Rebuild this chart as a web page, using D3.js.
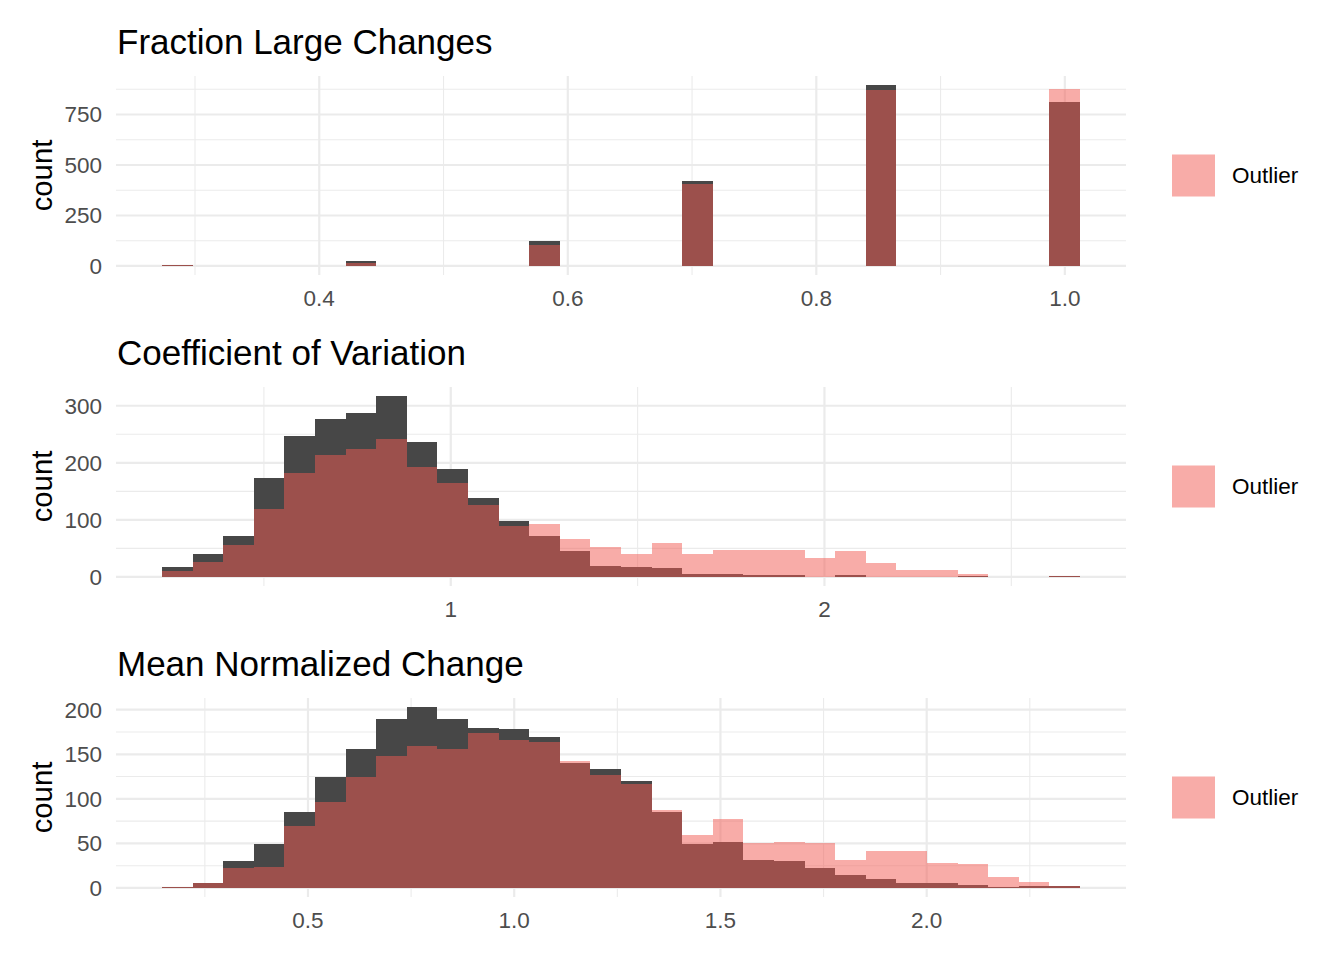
<!DOCTYPE html>
<html>
<head>
<meta charset="utf-8">
<script src="https://cdn.jsdelivr.net/npm/d3@7/dist/d3.min.js"></script>
<style>
    body { margin: 0; background: #fff; }
    text { font-family: "Liberation Sans", Arial, sans-serif; }
    rect.normal, rect.outlier { shape-rendering: crispEdges; }
</style>
</head>
<body>
<svg id="chart" width="1344" height="960"></svg>
<script>
// Panel titles
var panelTitles = ['Fraction Large Changes', 'Coefficient of Variation', 'Mean Normalized Change'];

// Fraction Large Changes: 30 bins, first bin center + bin width
var fracBinStart = 0.2857, fracBinWidth = 0.02463;
var fracNormal = [3, 0, 0, 0, 0, 0, 25, 0, 0, 0, 0, 0, 124, 0, 0, 0, 0, 421, 0, 0, 0, 0, 0, 896, 0, 0, 0, 0, 0, 812];
var fracOutlier = [3, 0, 0, 0, 0, 0, 15, 0, 0, 0, 0, 0, 104, 0, 0, 0, 0, 406, 0, 0, 0, 0, 0, 871, 0, 0, 0, 0, 0, 876];
var fracXTicks = [0.4, 0.6, 0.8, 1.0];
var fracXMinor = [0.3, 0.5, 0.7, 0.9];
var fracYTicks = [0, 250, 500, 750];
var fracYMinor = [125, 375, 625, 875];

// Coefficient of Variation
var cvBinStart = 0.268, cvBinWidth = 0.0819;
var cvNormal = [17, 40, 71, 173, 247, 277, 287, 317, 236, 189, 138, 98, 71, 45, 20, 17, 15, 5, 5, 3, 3, 0, 3, 0, 0, 0, 1, 0, 0, 1];
var cvOutlier = [10, 26, 56, 119, 182, 213, 224, 242, 192, 164, 126, 90, 92, 67, 53, 41, 59, 41, 48, 47, 47, 33, 45, 24, 13, 13, 6, 0, 0, 1];
var cvXTicks = [1, 2];
var cvXMinor = [0.5, 1.5, 2.5];
var cvYTicks = [0, 100, 200, 300];
var cvYMinor = [50, 150, 250];

// Mean Normalized Change
var mncBinStart = 0.183, mncBinWidth = 0.0742;
var mncNormal = [1, 5, 30, 49, 85, 124, 156, 190, 203, 190, 180, 178, 169, 140, 134, 120, 85, 49, 52, 31, 30, 22, 15, 10, 5, 5, 3, 1, 2, 2];
var mncOutlier = [1, 5, 22, 24, 69, 97, 124, 148, 159, 156, 174, 166, 164, 142, 127, 117, 88, 59, 77, 51, 52, 51, 31, 42, 41, 28, 27, 12, 7, 2];
var mncXTicks = [0.5, 1.0, 1.5, 2.0];
var mncXMinor = [0.25, 0.75, 1.25, 1.75, 2.25];
var mncYTicks = [0, 50, 100, 150, 200];
var mncYMinor = [25, 75, 125, 175];

var legendLabel = 'Outlier';

var NORMAL_FILL = '#474747',
    OUTLIER_FILL = 'rgb(241,89,81)',
    OUTLIER_OPACITY = 0.5,
    GRID = '#EBEBEB',
    TICK_COLOR = '#4D4D4D';

var panelLeft = 116, panelRight = 1126, panelHeight = 199;
var panelTops = [76, 387, 698];

var svg = d3.select('#chart');

var panels = [
    { title: panelTitles[0], start: fracBinStart, width: fracBinWidth, normal: fracNormal, outlier: fracOutlier,
      xTicks: fracXTicks, xMinor: fracXMinor, yTicks: fracYTicks, yMinor: fracYMinor, fmt: d3.format('.1f') },
    { title: panelTitles[1], start: cvBinStart, width: cvBinWidth, normal: cvNormal, outlier: cvOutlier,
      xTicks: cvXTicks, xMinor: cvXMinor, yTicks: cvYTicks, yMinor: cvYMinor, fmt: d3.format('d') },
    { title: panelTitles[2], start: mncBinStart, width: mncBinWidth, normal: mncNormal, outlier: mncOutlier,
      xTicks: mncXTicks, xMinor: mncXMinor, yTicks: mncYTicks, yMinor: mncYMinor, fmt: d3.format('.1f') }
];

function toBins(counts, start, width) {
    return counts.map(function (c, i) {
        var mid = start + i * width;
        return { x0: mid - width / 2, x1: mid + width / 2, count: c };
    }).filter(function (d) { return d.count > 0; });
}

function drawPanel(p, top) {
    var bottom = top + panelHeight;
    var n = p.normal.length;
    var lo = p.start - p.width / 2,
        hi = p.start + (n - 1) * p.width + p.width / 2,
        padX = (hi - lo) * 0.05;
    var yMax = d3.max(p.normal.concat(p.outlier));

    // ggplot style 5% expansion on both axes
    var x = d3.scaleLinear().domain([lo - padX, hi + padX]).range([panelLeft, panelRight]);
    var y = d3.scaleLinear().domain([-yMax * 0.05, yMax * 1.05]).range([bottom, top]);

    var g = svg.append('g').attr('class', 'panel');

    // Grid: minor first, then major
    g.selectAll('line.ymin').data(p.yMinor).enter().append('line')
        .attr('x1', panelLeft).attr('x2', panelRight)
        .attr('y1', y).attr('y2', y)
        .attr('stroke', GRID).attr('stroke-width', 1.1);
    g.selectAll('line.xmin').data(p.xMinor).enter().append('line')
        .attr('x1', x).attr('x2', x)
        .attr('y1', top).attr('y2', bottom)
        .attr('stroke', GRID).attr('stroke-width', 1.1);
    g.selectAll('line.ymaj').data(p.yTicks).enter().append('line')
        .attr('x1', panelLeft).attr('x2', panelRight)
        .attr('y1', y).attr('y2', y)
        .attr('stroke', GRID).attr('stroke-width', 2.2);
    g.selectAll('line.xmaj').data(p.xTicks).enter().append('line')
        .attr('x1', x).attr('x2', x)
        .attr('y1', top).attr('y2', bottom)
        .attr('stroke', GRID).attr('stroke-width', 2.2);

    // Bars: non-outliers underneath, outliers half transparent on top
    g.selectAll('rect.normal').data(toBins(p.normal, p.start, p.width)).enter().append('rect')
        .attr('class', 'normal')
        .attr('x', function (d) { return x(d.x0); })
        .attr('width', function (d) { return x(d.x1) - x(d.x0); })
        .attr('y', function (d) { return y(d.count); })
        .attr('height', function (d) { return y(0) - y(d.count); })
        .attr('fill', NORMAL_FILL);
    g.selectAll('rect.outlier').data(toBins(p.outlier, p.start, p.width)).enter().append('rect')
        .attr('class', 'outlier')
        .attr('x', function (d) { return x(d.x0); })
        .attr('width', function (d) { return x(d.x1) - x(d.x0); })
        .attr('y', function (d) { return y(d.count); })
        .attr('height', function (d) { return y(0) - y(d.count); })
        .attr('fill', OUTLIER_FILL)
        .attr('fill-opacity', OUTLIER_OPACITY);

    // Tick labels
    g.selectAll('text.ytick').data(p.yTicks).enter().append('text')
        .attr('x', 102).attr('y', y).attr('dy', '0.35em')
        .attr('text-anchor', 'end')
        .attr('font-size', 22.5).attr('fill', TICK_COLOR)
        .text(function (d) { return d; });
    g.selectAll('text.xtick').data(p.xTicks).enter().append('text')
        .attr('x', x).attr('y', bottom + 31)
        .attr('text-anchor', 'middle')
        .attr('font-size', 22.5).attr('fill', TICK_COLOR)
        .text(p.fmt);

    // Title and axis title
    g.append('text')
        .attr('x', panelLeft + 1).attr('y', top - 22)
        .attr('font-size', 35).attr('fill', '#000')
        .text(p.title);
    g.append('text')
        .attr('transform', 'translate(52,' + (top + panelHeight / 2) + ') rotate(-90)')
        .attr('text-anchor', 'middle')
        .attr('font-size', 29.3).attr('fill', '#000')
        .text('count');

    // Legend
    var mid = top + panelHeight / 2;
    g.append('rect')
        .attr('x', 1172).attr('y', mid - 21)
        .attr('width', 43).attr('height', 42)
        .attr('fill', OUTLIER_FILL).attr('fill-opacity', OUTLIER_OPACITY);
    g.append('text')
        .attr('x', 1232).attr('y', mid).attr('dy', '0.35em')
        .attr('font-size', 22.5).attr('fill', '#000')
        .text(legendLabel);
}

panels.forEach(function (p, i) {
    drawPanel(p, panelTops[i]);
});
</script>
</body>
</html>
